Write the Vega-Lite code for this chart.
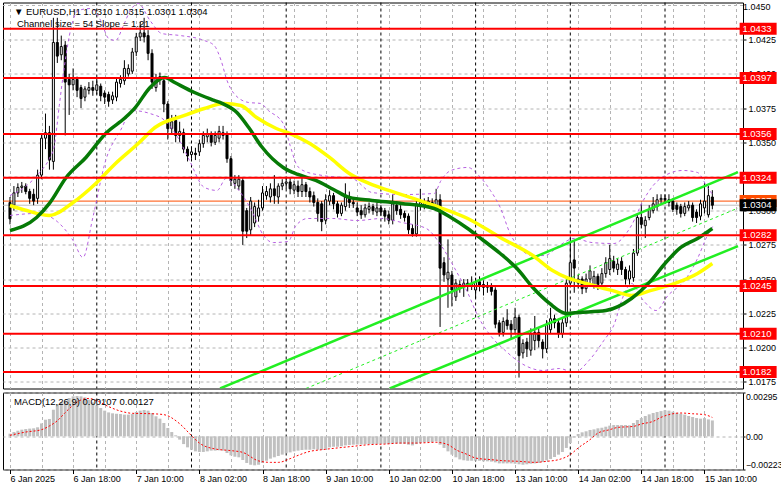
{
"$schema": "https://vega.github.io/schema/vega-lite/v6.json",
"background": "white",
"padding": {"left": 1, "top": 1.5, "right": 0, "bottom": 0},
"autosize": {"type": "pad"},
"config": {
 "font": "Liberation Sans",
 "view": {"stroke": "black", "strokeWidth": 1},
 "axis": {"domain": false, "labelFont": "Liberation Sans", "labelFontSize": 9, "labelColor": "black", "tickColor": "black", "tickSize": 3, "gridColor": "#b4b4b4", "gridDash": [3, 3], "gridWidth": 1, "labelOverlap": false, "labelBound": false},
 "concat": {"spacing": 2}
},
"datasets": {
 "candles": [
{"i":0,"o":1.0306,"h":1.031,"l":1.029,"c":1.0294},{"i":1,"o":1.0304,"h":1.0318,"l":1.03,"c":1.0313},{"i":2,"o":1.0313,"h":1.032,"l":1.031,"c":1.0317},{"i":3,"o":1.0317,"h":1.0321,"l":1.0313,"c":1.0318},{"i":4,"o":1.0318,"h":1.032,"l":1.0312,"c":1.0314},{"i":5,"o":1.0314,"h":1.0316,"l":1.0305,"c":1.0309},{"i":6,"o":1.0312,"h":1.0316,"l":1.0304,"c":1.0307},{"i":7,"o":1.0309,"h":1.033,"l":1.0305,"c":1.0326},{"i":8,"o":1.0326,"h":1.0356,"l":1.0323,"c":1.0353},{"i":9,"o":1.0353,"h":1.0371,"l":1.0345,"c":1.0357},
{"i":10,"o":1.0357,"h":1.0362,"l":1.033,"c":1.0337},{"i":11,"o":1.0336,"h":1.0441,"l":1.033,"c":1.0423},{"i":12,"o":1.0423,"h":1.0441,"l":1.0408,"c":1.0413},{"i":13,"o":1.0414,"h":1.0428,"l":1.041,"c":1.042},{"i":14,"o":1.0421,"h":1.0424,"l":1.0355,"c":1.0394},{"i":15,"o":1.0396,"h":1.04,"l":1.037,"c":1.0392},{"i":16,"o":1.0392,"h":1.0404,"l":1.0388,"c":1.0396},{"i":17,"o":1.0396,"h":1.0398,"l":1.0383,"c":1.0388},{"i":18,"o":1.039,"h":1.0392,"l":1.0375,"c":1.0382},{"i":19,"o":1.0383,"h":1.0391,"l":1.038,"c":1.0389},
{"i":20,"o":1.0388,"h":1.0394,"l":1.0385,"c":1.039},{"i":21,"o":1.039,"h":1.0395,"l":1.0384,"c":1.0388},{"i":22,"o":1.0388,"h":1.0397,"l":1.0385,"c":1.0392},{"i":23,"o":1.0391,"h":1.0393,"l":1.038,"c":1.0384},{"i":24,"o":1.0386,"h":1.0388,"l":1.0378,"c":1.0383},{"i":25,"o":1.0385,"h":1.0387,"l":1.0376,"c":1.038},{"i":26,"o":1.0381,"h":1.0387,"l":1.0378,"c":1.0384},{"i":27,"o":1.0383,"h":1.0397,"l":1.038,"c":1.0394},{"i":28,"o":1.0393,"h":1.0399,"l":1.039,"c":1.0396},{"i":29,"o":1.0395,"h":1.041,"l":1.0392,"c":1.0404},
{"i":30,"o":1.04,"h":1.0407,"l":1.0398,"c":1.0404},{"i":31,"o":1.0402,"h":1.0419,"l":1.04,"c":1.0416},{"i":32,"o":1.0416,"h":1.043,"l":1.0413,"c":1.0427},{"i":33,"o":1.0427,"h":1.0438,"l":1.0424,"c":1.043},{"i":34,"o":1.043,"h":1.0441,"l":1.0423,"c":1.0427},{"i":35,"o":1.0428,"h":1.0432,"l":1.041,"c":1.0415},{"i":36,"o":1.0415,"h":1.0418,"l":1.0389,"c":1.0394},{"i":37,"o":1.039,"h":1.04,"l":1.0387,"c":1.0397},{"i":38,"o":1.0396,"h":1.0401,"l":1.0392,"c":1.0398},{"i":39,"o":1.0395,"h":1.0398,"l":1.0372,"c":1.0378},
{"i":40,"o":1.0378,"h":1.038,"l":1.0352,"c":1.036},{"i":41,"o":1.036,"h":1.037,"l":1.0356,"c":1.0365},{"i":42,"o":1.0366,"h":1.037,"l":1.035,"c":1.0355},{"i":43,"o":1.0355,"h":1.0365,"l":1.035,"c":1.0358},{"i":44,"o":1.0357,"h":1.036,"l":1.0342,"c":1.0345},{"i":45,"o":1.0345,"h":1.0347,"l":1.0336,"c":1.034},{"i":46,"o":1.0341,"h":1.0347,"l":1.0338,"c":1.0343},{"i":47,"o":1.0342,"h":1.0346,"l":1.0337,"c":1.0341},{"i":48,"o":1.0343,"h":1.0352,"l":1.034,"c":1.0349},{"i":49,"o":1.0349,"h":1.0358,"l":1.0346,"c":1.0355},
{"i":50,"o":1.0354,"h":1.036,"l":1.035,"c":1.0356},{"i":51,"o":1.0356,"h":1.0358,"l":1.0347,"c":1.035},{"i":52,"o":1.035,"h":1.0358,"l":1.0348,"c":1.0355},{"i":53,"o":1.0353,"h":1.0362,"l":1.035,"c":1.0358},{"i":54,"o":1.0355,"h":1.0362,"l":1.0352,"c":1.0357},{"i":55,"o":1.0356,"h":1.0358,"l":1.0335,"c":1.0338},{"i":56,"o":1.0338,"h":1.034,"l":1.0318,"c":1.0322},{"i":57,"o":1.032,"h":1.0326,"l":1.0316,"c":1.0323},{"i":58,"o":1.0318,"h":1.0326,"l":1.0315,"c":1.0323},{"i":59,"o":1.0322,"h":1.0324,"l":1.0275,"c":1.0285},
{"i":60,"o":1.03,"h":1.0302,"l":1.028,"c":1.0285},{"i":61,"o":1.0286,"h":1.031,"l":1.0282,"c":1.0307},{"i":62,"o":1.0291,"h":1.0306,"l":1.0288,"c":1.0303},{"i":63,"o":1.0296,"h":1.0308,"l":1.0292,"c":1.0302},{"i":64,"o":1.0302,"h":1.0318,"l":1.03,"c":1.0313},{"i":65,"o":1.0311,"h":1.0318,"l":1.0308,"c":1.0314},{"i":66,"o":1.031,"h":1.032,"l":1.0306,"c":1.0316},{"i":67,"o":1.0316,"h":1.0326,"l":1.0305,"c":1.0311},{"i":68,"o":1.031,"h":1.032,"l":1.0305,"c":1.0318},{"i":69,"o":1.0318,"h":1.0323,"l":1.0315,"c":1.032},
{"i":70,"o":1.032,"h":1.0324,"l":1.0316,"c":1.0321},{"i":71,"o":1.0321,"h":1.0324,"l":1.0312,"c":1.0316},{"i":72,"o":1.0315,"h":1.0322,"l":1.0312,"c":1.0319},{"i":73,"o":1.0318,"h":1.0322,"l":1.031,"c":1.0314},{"i":74,"o":1.0314,"h":1.0324,"l":1.031,"c":1.0319},{"i":75,"o":1.0319,"h":1.0321,"l":1.031,"c":1.0314},{"i":76,"o":1.0314,"h":1.0317,"l":1.0306,"c":1.031},{"i":77,"o":1.0311,"h":1.0314,"l":1.0303,"c":1.0306},{"i":78,"o":1.0306,"h":1.0309,"l":1.0292,"c":1.0298},{"i":79,"o":1.0305,"h":1.0307,"l":1.0285,"c":1.0292},
{"i":80,"o":1.0293,"h":1.0312,"l":1.029,"c":1.0308},{"i":81,"o":1.0307,"h":1.0315,"l":1.0304,"c":1.0311},{"i":82,"o":1.0311,"h":1.0313,"l":1.0301,"c":1.0305},{"i":83,"o":1.0305,"h":1.0307,"l":1.0295,"c":1.0298},{"i":84,"o":1.0298,"h":1.0306,"l":1.0296,"c":1.0304},{"i":85,"o":1.0303,"h":1.032,"l":1.03,"c":1.031},{"i":86,"o":1.031,"h":1.0314,"l":1.0302,"c":1.0306},{"i":87,"o":1.0306,"h":1.031,"l":1.0302,"c":1.0305},{"i":88,"o":1.0302,"h":1.0306,"l":1.0296,"c":1.0299},{"i":89,"o":1.03,"h":1.0304,"l":1.0294,"c":1.0297},
{"i":90,"o":1.0297,"h":1.0305,"l":1.0295,"c":1.0302},{"i":91,"o":1.0301,"h":1.0306,"l":1.0298,"c":1.0303},{"i":92,"o":1.0303,"h":1.0305,"l":1.0297,"c":1.03},{"i":93,"o":1.0299,"h":1.0306,"l":1.0296,"c":1.0302},{"i":94,"o":1.0302,"h":1.0304,"l":1.0296,"c":1.0299},{"i":95,"o":1.03,"h":1.0302,"l":1.0292,"c":1.0296},{"i":96,"o":1.0297,"h":1.03,"l":1.029,"c":1.0293},{"i":97,"o":1.0293,"h":1.0312,"l":1.029,"c":1.0305},{"i":98,"o":1.0304,"h":1.0307,"l":1.0297,"c":1.03},{"i":99,"o":1.0301,"h":1.0304,"l":1.0294,"c":1.0297},
{"i":100,"o":1.0298,"h":1.03,"l":1.0292,"c":1.0295},{"i":101,"o":1.0296,"h":1.0298,"l":1.0283,"c":1.0286},{"i":102,"o":1.0287,"h":1.029,"l":1.0281,"c":1.0283},{"i":103,"o":1.0283,"h":1.0307,"l":1.0281,"c":1.0305},{"i":104,"o":1.0303,"h":1.0316,"l":1.03,"c":1.0306},{"i":105,"o":1.0304,"h":1.0309,"l":1.0301,"c":1.0306},{"i":106,"o":1.0305,"h":1.031,"l":1.0302,"c":1.0307},{"i":107,"o":1.0306,"h":1.0309,"l":1.0301,"c":1.0304},{"i":108,"o":1.0303,"h":1.0316,"l":1.0301,"c":1.0308},{"i":109,"o":1.0308,"h":1.0312,"l":1.0215,"c":1.0258},
{"i":110,"o":1.0262,"h":1.0266,"l":1.0248,"c":1.0253},{"i":111,"o":1.025,"h":1.0279,"l":1.0229,"c":1.0255},{"i":112,"o":1.0253,"h":1.0256,"l":1.023,"c":1.0242},{"i":113,"o":1.0237,"h":1.025,"l":1.0234,"c":1.0247},{"i":114,"o":1.0243,"h":1.0249,"l":1.024,"c":1.0246},{"i":115,"o":1.0245,"h":1.025,"l":1.0237,"c":1.0247},{"i":116,"o":1.0247,"h":1.025,"l":1.0241,"c":1.0245},{"i":117,"o":1.0245,"h":1.0252,"l":1.0242,"c":1.0247},{"i":118,"o":1.0242,"h":1.0251,"l":1.0236,"c":1.0248},{"i":119,"o":1.0248,"h":1.0252,"l":1.0241,"c":1.0245},
{"i":120,"o":1.0246,"h":1.0249,"l":1.0238,"c":1.0244},{"i":121,"o":1.0244,"h":1.0248,"l":1.024,"c":1.0245},{"i":122,"o":1.0245,"h":1.0247,"l":1.0238,"c":1.0241},{"i":123,"o":1.0242,"h":1.0244,"l":1.0214,"c":1.0217},{"i":124,"o":1.0218,"h":1.022,"l":1.0208,"c":1.0211},{"i":125,"o":1.0211,"h":1.0222,"l":1.0208,"c":1.0219},{"i":126,"o":1.022,"h":1.0228,"l":1.0213,"c":1.0216},{"i":127,"o":1.0217,"h":1.022,"l":1.0206,"c":1.0213},{"i":128,"o":1.0213,"h":1.0229,"l":1.021,"c":1.0222},{"i":129,"o":1.0222,"h":1.0224,"l":1.0178,"c":1.0194},
{"i":130,"o":1.0196,"h":1.0206,"l":1.0192,"c":1.0203},{"i":131,"o":1.0204,"h":1.0207,"l":1.0193,"c":1.0199},{"i":132,"o":1.0198,"h":1.0214,"l":1.0194,"c":1.021},{"i":133,"o":1.0205,"h":1.0223,"l":1.0198,"c":1.0211},{"i":134,"o":1.0211,"h":1.0214,"l":1.02,"c":1.0205},{"i":135,"o":1.0204,"h":1.0206,"l":1.0192,"c":1.0199},{"i":136,"o":1.0199,"h":1.022,"l":1.0196,"c":1.0217},{"i":137,"o":1.0213,"h":1.0229,"l":1.021,"c":1.0221},{"i":138,"o":1.0221,"h":1.0224,"l":1.0214,"c":1.0218},{"i":139,"o":1.0218,"h":1.0221,"l":1.0207,"c":1.021},
{"i":140,"o":1.021,"h":1.0221,"l":1.0207,"c":1.0218},{"i":141,"o":1.0218,"h":1.025,"l":1.0215,"c":1.0247},{"i":142,"o":1.0247,"h":1.028,"l":1.0245,"c":1.0262},{"i":143,"o":1.0264,"h":1.0278,"l":1.024,"c":1.0258},{"i":144,"o":1.0247,"h":1.0253,"l":1.0243,"c":1.025},{"i":145,"o":1.025,"h":1.0252,"l":1.0239,"c":1.0243},{"i":146,"o":1.0243,"h":1.0254,"l":1.024,"c":1.025},{"i":147,"o":1.025,"h":1.026,"l":1.0246,"c":1.0256},{"i":148,"o":1.0246,"h":1.0256,"l":1.0243,"c":1.0252},{"i":149,"o":1.0252,"h":1.0254,"l":1.0242,"c":1.0246},
{"i":150,"o":1.0247,"h":1.0258,"l":1.0244,"c":1.0254},{"i":151,"o":1.0254,"h":1.0266,"l":1.0251,"c":1.0262},{"i":152,"o":1.0257,"h":1.0275,"l":1.0253,"c":1.0265},{"i":153,"o":1.0263,"h":1.0267,"l":1.0255,"c":1.0258},{"i":154,"o":1.0257,"h":1.0265,"l":1.0253,"c":1.0261},{"i":155,"o":1.0263,"h":1.0266,"l":1.0253,"c":1.0257},{"i":156,"o":1.0257,"h":1.0259,"l":1.0246,"c":1.025},{"i":157,"o":1.025,"h":1.026,"l":1.0246,"c":1.0256},{"i":158,"o":1.0251,"h":1.0272,"l":1.0248,"c":1.0269},{"i":159,"o":1.0269,"h":1.0298,"l":1.0267,"c":1.0295},
{"i":160,"o":1.0295,"h":1.0305,"l":1.0287,"c":1.029},{"i":161,"o":1.0289,"h":1.0296,"l":1.028,"c":1.0293},{"i":162,"o":1.0295,"h":1.0304,"l":1.0293,"c":1.0301},{"i":163,"o":1.03,"h":1.031,"l":1.0298,"c":1.0305},{"i":164,"o":1.0303,"h":1.0312,"l":1.03,"c":1.0308},{"i":165,"o":1.0308,"h":1.0312,"l":1.0305,"c":1.0309},{"i":166,"o":1.0309,"h":1.0312,"l":1.0305,"c":1.0308},{"i":167,"o":1.0308,"h":1.0312,"l":1.0303,"c":1.0306},{"i":168,"o":1.0307,"h":1.0309,"l":1.0299,"c":1.0301},{"i":169,"o":1.0304,"h":1.0306,"l":1.0297,"c":1.0301},
{"i":170,"o":1.0303,"h":1.0305,"l":1.0295,"c":1.0298},{"i":171,"o":1.0298,"h":1.0306,"l":1.0296,"c":1.0303},{"i":172,"o":1.0302,"h":1.0307,"l":1.03,"c":1.0304},{"i":173,"o":1.0304,"h":1.0306,"l":1.0292,"c":1.0295},{"i":174,"o":1.0299,"h":1.0301,"l":1.0291,"c":1.0295},{"i":175,"o":1.0296,"h":1.0308,"l":1.0293,"c":1.0305},{"i":176,"o":1.0302,"h":1.032,"l":1.0298,"c":1.0307},{"i":177,"o":1.0297,"h":1.0318,"l":1.0295,"c":1.0311},{"i":178,"o":1.031,"h":1.0315,"l":1.0301,"c":1.0304}
 ],
 "macd": [
{"i":0,"v":0.00018},{"i":1,"v":0.00029},{"i":2,"v":0.00038},{"i":3,"v":0.00045},{"i":4,"v":0.00049},{"i":5,"v":0.00052},{"i":6,"v":0.00054},{"i":7,"v":0.00061},{"i":8,"v":0.00087},{"i":9,"v":0.00112},
{"i":10,"v":0.00117},{"i":11,"v":0.00179},{"i":12,"v":0.00213},{"i":13,"v":0.00231},{"i":14,"v":0.0024},{"i":15,"v":0.00258},{"i":16,"v":0.00269},{"i":17,"v":0.00271},{"i":18,"v":0.00269},{"i":19,"v":0.00262},
{"i":20,"v":0.00247},{"i":21,"v":0.00229},{"i":22,"v":0.00209},{"i":23,"v":0.00191},{"i":24,"v":0.00173},{"i":25,"v":0.00161},{"i":26,"v":0.00155},{"i":27,"v":0.00152},{"i":28,"v":0.0015},{"i":29,"v":0.00146},
{"i":30,"v":0.00146},{"i":31,"v":0.0015},{"i":32,"v":0.00164},{"i":33,"v":0.00173},{"i":34,"v":0.00177},{"i":35,"v":0.00173},{"i":36,"v":0.00157},{"i":37,"v":0.00135},{"i":38,"v":0.00119},{"i":39,"v":0.0009},
{"i":40,"v":0.00056},{"i":41,"v":0.00029},{"i":42,"v":0.00007},{"i":43,"v":-0.00022},{"i":44,"v":-0.00052},{"i":45,"v":-0.00074},{"i":46,"v":-0.0009},{"i":47,"v":-0.00101},{"i":48,"v":-0.00105},{"i":49,"v":-0.00105},
{"i":50,"v":-0.00101},{"i":51,"v":-0.00096},{"i":52,"v":-0.00096},{"i":53,"v":-0.00094},{"i":54,"v":-0.00096},{"i":55,"v":-0.00112},{"i":56,"v":-0.00128},{"i":57,"v":-0.00137},{"i":58,"v":-0.00141},{"i":59,"v":-0.00159},
{"i":60,"v":-0.00179},{"i":61,"v":-0.00191},{"i":62,"v":-0.00195},{"i":63,"v":-0.00191},{"i":64,"v":-0.00179},{"i":65,"v":-0.00164},{"i":66,"v":-0.0015},{"i":67,"v":-0.00141},{"i":68,"v":-0.00132},{"i":69,"v":-0.00123},
{"i":70,"v":-0.00114},{"i":71,"v":-0.00108},{"i":72,"v":-0.00101},{"i":73,"v":-0.00096},{"i":74,"v":-0.00092},{"i":75,"v":-0.0009},{"i":76,"v":-0.0009},{"i":77,"v":-0.00087},{"i":78,"v":-0.0009},{"i":79,"v":-0.00092},
{"i":80,"v":-0.00083},{"i":81,"v":-0.00074},{"i":82,"v":-0.0007},{"i":83,"v":-0.0007},{"i":84,"v":-0.00067},{"i":85,"v":-0.00061},{"i":86,"v":-0.00058},{"i":87,"v":-0.00056},{"i":88,"v":-0.00055},{"i":89,"v":-0.00055},
{"i":90,"v":-0.00053},{"i":91,"v":-0.00052},{"i":92,"v":-0.00052},{"i":93,"v":-0.00051},{"i":94,"v":-0.0005},{"i":95,"v":-0.0005},{"i":96,"v":-0.00052},{"i":97,"v":-0.00048},{"i":98,"v":-0.00048},{"i":99,"v":-0.0005},
{"i":100,"v":-0.0005},{"i":101,"v":-0.00056},{"i":102,"v":-0.00061},{"i":103,"v":-0.00052},{"i":104,"v":-0.00045},{"i":105,"v":-0.0004},{"i":106,"v":-0.00038},{"i":107,"v":-0.00038},{"i":108,"v":-0.00034},{"i":109,"v":-0.00056},
{"i":110,"v":-0.00078},{"i":111,"v":-0.00101},{"i":112,"v":-0.00123},{"i":113,"v":-0.00141},{"i":114,"v":-0.00155},{"i":115,"v":-0.00161},{"i":116,"v":-0.00164},{"i":117,"v":-0.00164},{"i":118,"v":-0.00164},{"i":119,"v":-0.00164},
{"i":120,"v":-0.00168},{"i":121,"v":-0.00168},{"i":122,"v":-0.0017},{"i":123,"v":-0.00175},{"i":124,"v":-0.00182},{"i":125,"v":-0.00182},{"i":126,"v":-0.00182},{"i":127,"v":-0.00182},{"i":128,"v":-0.00184},{"i":129,"v":-0.00188},
{"i":130,"v":-0.00191},{"i":131,"v":-0.00188},{"i":132,"v":-0.00184},{"i":133,"v":-0.00182},{"i":134,"v":-0.00179},{"i":135,"v":-0.00173},{"i":136,"v":-0.00161},{"i":137,"v":-0.00152},{"i":138,"v":-0.00139},{"i":139,"v":-0.00123},
{"i":140,"v":-0.00105},{"i":141,"v":-0.00078},{"i":142,"v":-0.00045},{"i":143,"v":-0.00007},{"i":144,"v":0.00016},{"i":145,"v":0.00027},{"i":146,"v":0.00034},{"i":147,"v":0.00043},{"i":148,"v":0.00047},{"i":149,"v":0.00054},
{"i":150,"v":0.00058},{"i":151,"v":0.00065},{"i":152,"v":0.00072},{"i":153,"v":0.00076},{"i":154,"v":0.00076},{"i":155,"v":0.00076},{"i":156,"v":0.00076},{"i":157,"v":0.00074},{"i":158,"v":0.0009},{"i":159,"v":0.0011},
{"i":160,"v":0.00123},{"i":161,"v":0.00137},{"i":162,"v":0.00148},{"i":163,"v":0.00157},{"i":164,"v":0.00164},{"i":165,"v":0.0017},{"i":166,"v":0.00175},{"i":167,"v":0.00173},{"i":168,"v":0.00166},{"i":169,"v":0.00159},
{"i":170,"v":0.00152},{"i":171,"v":0.00146},{"i":172,"v":0.00137},{"i":173,"v":0.0013},{"i":174,"v":0.00123},{"i":175,"v":0.00119},{"i":176,"v":0.00123},{"i":177,"v":0.00114},{"i":178,"v":0.00107}
 ],
 "signal": [
{"i":0,"v":0.00007},{"i":4,"v":0.00029},{"i":8,"v":0.00045},{"i":10,"v":0.0007},{"i":12,"v":0.00105},{"i":14,"v":0.0016},{"i":16,"v":0.0021},{"i":18,"v":0.00245},{"i":20,"v":0.00255},{"i":22,"v":0.0024},{"i":25,"v":0.002},{"i":28,"v":0.0017},{"i":31,"v":0.00155},{"i":36,"v":0.00152},{"i":39,"v":0.00146},{"i":43,"v":0.00085},{"i":46,"v":0.00005},{"i":48,"v":-0.00045},{"i":52,"v":-0.00085},{"i":56,"v":-0.00096},{"i":59,"v":-0.00108},{"i":63,"v":-0.00165},{"i":66,"v":-0.00175},{"i":68,"v":-0.00175},{"i":71,"v":-0.0015},{"i":73,"v":-0.00128},{"i":76,"v":-0.00101},{"i":79,"v":-0.0009},{"i":83,"v":-0.00078},{"i":87,"v":-0.00067},{"i":91,"v":-0.00056},{"i":95,"v":-0.00052},{"i":99,"v":-0.00045},{"i":103,"v":-0.00045},{"i":108,"v":-0.0004},{"i":111,"v":-0.00056},{"i":113,"v":-0.0009},{"i":116,"v":-0.00123},{"i":118,"v":-0.00146},{"i":122,"v":-0.00157},{"i":125,"v":-0.00164},{"i":129,"v":-0.00168},{"i":133,"v":-0.00175},{"i":136,"v":-0.00168},{"i":139,"v":-0.00157},{"i":142,"v":-0.00123},{"i":144,"v":-0.00078},{"i":147,"v":-0.00022},{"i":149,"v":0.00022},{"i":152,"v":0.00045},{"i":154,"v":0.0006},{"i":158,"v":0.00067},{"i":160,"v":0.00083},{"i":163,"v":0.00101},{"i":165,"v":0.00128},{"i":168,"v":0.00152},{"i":170,"v":0.00157},{"i":173,"v":0.00152},{"i":176,"v":0.00146},{"i":178,"v":0.00127}
 ],
 "gma": [
{"i":0,"p":1.02855},{"i":6.75,"p":1.0295},{"i":10,"p":1.03053},{"i":14.25,"p":1.03243},{"i":19.25,"p":1.03389},{"i":24.25,"p":1.03564},{"i":29.25,"p":1.03681},{"i":31.75,"p":1.03754},{"i":35.5,"p":1.03901},{"i":39.25,"p":1.03974},{"i":41.75,"p":1.03937},{"i":46.75,"p":1.03864},{"i":51.75,"p":1.03806},{"i":53.75,"p":1.03784},{"i":57.5,"p":1.03718},{"i":60.5,"p":1.03608},{"i":63.75,"p":1.03469},{"i":69.25,"p":1.03316},{"i":73,"p":1.03265},{"i":77.5,"p":1.03221},{"i":82,"p":1.03155},{"i":86,"p":1.03097},{"i":91.75,"p":1.03075},{"i":99.25,"p":1.03053},{"i":107.5,"p":1.03016},{"i":111.75,"p":1.0295},{"i":116,"p":1.0287},{"i":120,"p":1.02782},{"i":124.25,"p":1.02687},{"i":128.5,"p":1.02577},{"i":132.5,"p":1.02438},{"i":136.75,"p":1.02322},{"i":141,"p":1.02249},{"i":144.25,"p":1.02256},{"i":151,"p":1.0227},{"i":157.5,"p":1.02358},{"i":162.5,"p":1.0249},{"i":166,"p":1.02614},{"i":170,"p":1.02731},{"i":174.25,"p":1.02797},{"i":178,"p":1.0287}
 ],
 "yma": [
{"i":0,"p":1.03038},{"i":4.25,"p":1.03001},{"i":10,"p":1.02965},{"i":16,"p":1.0306},{"i":21.75,"p":1.03199},{"i":26.75,"p":1.03345},{"i":32.5,"p":1.03491},{"i":36.75,"p":1.03608},{"i":44.25,"p":1.03696},{"i":49.25,"p":1.03747},{"i":54.25,"p":1.03784},{"i":58.5,"p":1.03769},{"i":62.5,"p":1.03681},{"i":67.5,"p":1.03601},{"i":71,"p":1.03564},{"i":76,"p":1.03491},{"i":81,"p":1.03389},{"i":86,"p":1.03272},{"i":91,"p":1.03199},{"i":96,"p":1.03148},{"i":99.25,"p":1.03118},{"i":107.5,"p":1.03038},{"i":116,"p":1.02943},{"i":124.25,"p":1.02804},{"i":132.5,"p":1.02672},{"i":137.5,"p":1.02563},{"i":141,"p":1.02512},{"i":146,"p":1.02468},{"i":152.5,"p":1.02417},{"i":157.5,"p":1.0238},{"i":162.5,"p":1.02417},{"i":168.5,"p":1.02468},{"i":174.25,"p":1.02541},{"i":178,"p":1.02614}
 ],
 "ub": [
{"i":0,"p":1.03111},{"i":4.25,"p":1.03184},{"i":7.5,"p":1.03279},{"i":10,"p":1.03382},{"i":11.25,"p":1.03477},{"i":12.5,"p":1.03769},{"i":13.75,"p":1.04047},{"i":15.5,"p":1.04339},{"i":17.25,"p":1.04463},{"i":20.5,"p":1.04478},{"i":23,"p":1.0439},{"i":25,"p":1.04259},{"i":26.75,"p":1.04244},{"i":28.75,"p":1.04354},{"i":30.5,"p":1.04463},{"i":32.5,"p":1.04515},{"i":35.5,"p":1.0439},{"i":38.5,"p":1.04295},{"i":43,"p":1.04281},{"i":49.25,"p":1.04244},{"i":51.75,"p":1.04208},{"i":53.5,"p":1.04098},{"i":55,"p":1.03952},{"i":56.75,"p":1.03857},{"i":60.5,"p":1.03791},{"i":63.5,"p":1.03784},{"i":65.5,"p":1.03732},{"i":69.25,"p":1.03637},{"i":71,"p":1.03477},{"i":72.5,"p":1.03345},{"i":74.25,"p":1.03294},{"i":79.25,"p":1.03257},{"i":86.75,"p":1.03235},{"i":91.75,"p":1.03133},{"i":99.25,"p":1.03118},{"i":107.5,"p":1.03126},{"i":109.25,"p":1.03221},{"i":111.75,"p":1.03294},{"i":116,"p":1.03316},{"i":119.25,"p":1.03243},{"i":121.75,"p":1.03148},{"i":124.25,"p":1.03023},{"i":126.75,"p":1.02833},{"i":129.25,"p":1.02724},{"i":132.5,"p":1.02672},{"i":135.5,"p":1.02672},{"i":139.25,"p":1.02746},{"i":143,"p":1.02797},{"i":147.5,"p":1.02767},{"i":153,"p":1.0276},{"i":157.5,"p":1.02892},{"i":160.5,"p":1.03075},{"i":163,"p":1.03184},{"i":166,"p":1.03257},{"i":170.5,"p":1.03294},{"i":174.25,"p":1.03279},{"i":176.75,"p":1.0317},{"i":178.25,"p":1.03111}
 ],
 "lb": [
{"i":0,"p":1.02965},{"i":7,"p":1.0298},{"i":12,"p":1.0292},{"i":16,"p":1.02782},{"i":18.5,"p":1.02658},{"i":21,"p":1.0295},{"i":24.25,"p":1.03367},{"i":28,"p":1.03586},{"i":31,"p":1.03732},{"i":35.5,"p":1.0371},{"i":39.25,"p":1.03659},{"i":43,"p":1.03513},{"i":45.5,"p":1.03367},{"i":49.25,"p":1.0317},{"i":52.5,"p":1.03148},{"i":54.75,"p":1.03235},{"i":58,"p":1.03148},{"i":61.25,"p":1.03001},{"i":64.25,"p":1.02819},{"i":66.75,"p":1.02767},{"i":70.5,"p":1.02775},{"i":72.5,"p":1.02892},{"i":75.5,"p":1.02943},{"i":81.75,"p":1.02943},{"i":88,"p":1.02928},{"i":94.25,"p":1.02943},{"i":99.25,"p":1.02914},{"i":105.5,"p":1.0287},{"i":109.25,"p":1.02746},{"i":113,"p":1.02563},{"i":116,"p":1.024},{"i":118.5,"p":1.02234},{"i":121.75,"p":1.02088},{"i":125.5,"p":1.01978},{"i":129.25,"p":1.0189},{"i":135,"p":1.01832},{"i":139.25,"p":1.01846},{"i":143,"p":1.01817},{"i":146.75,"p":1.01905},{"i":150.5,"p":1.02051},{"i":153,"p":1.02161},{"i":155.5,"p":1.0238},{"i":157.5,"p":1.02468},{"i":160.5,"p":1.02344},{"i":163.75,"p":1.0227},{"i":166.75,"p":1.0238},{"i":171,"p":1.0249},{"i":174.25,"p":1.02651},{"i":176.75,"p":1.02819},{"i":178.25,"p":1.02892}
 ],
 "chan": [
{"k":"u","i":53.25,"p":1.017},{"k":"u","i":184.5,"p":1.03282},
{"k":"m","i":75,"p":1.017},{"k":"m","i":184.5,"p":1.03019},
{"k":"l","i":96.25,"p":1.017},{"k":"l","i":184.5,"p":1.02741}
 ],
 "levels": [{"p":1.0433},{"p":1.0397},{"p":1.0356},{"p":1.0324},{"p":1.0282},{"p":1.0245},{"p":1.021},{"p":1.0182}],
 "days": [{"i":22},{"i":46},{"i":70},{"i":94},{"i":118},{"i":142},{"i":166}]
},
"vconcat": [
 {
  "width": 740,
  "height": 386,
  "layer": [
   {
    "data": {"name": "days"},
    "mark": {"type": "rule", "color": "black", "strokeDash": [3, 3], "strokeWidth": 1},
    "encoding": {
     "x": {"field": "i", "type": "quantitative", "scale": {"domain": [-0.5, 184.5], "nice": false, "zero": false},
      "axis": {"title": null, "tickCount": 40, "values": [0,8,16,24,32,40,48,56,64,72,80,88,96,104,112,120,128,136,144,152,160,168,176,184], "grid": true, "labels": false, "ticks": false, "domain": false}}
    }
   },
   {
    "data": {"values": [{"p": 1.0304}]},
    "mark": {"type": "rule", "color": "#c0c0c0", "strokeWidth": 1},
    "encoding": {
     "y": {"field": "p", "type": "quantitative", "scale": {"domain": [1.017, 1.04522], "nice": false, "zero": false},
      "axis": {"title": null, "orient": "right", "tickCount": 40, "values": [1.0175,1.02,1.0225,1.025,1.0275,1.03,1.0325,1.035,1.0375,1.04,1.0425], "format": ".4f", "grid": true, "tickSize": 3, "labelPadding": 2, "labelOverlap": false, "labelBound": false, "labelFlush": false}}
    }
   },
   {
    "data": {"values": [{"p": 1.045}]},
    "mark": {"type": "rule", "color": "#b4b4b4", "strokeDash": [3, 3], "strokeWidth": 1},
    "encoding": {"y": {"field": "p", "type": "quantitative", "scale": {"domain": [1.017, 1.04522], "nice": false, "zero": false}}}
   },
   {
    "data": {"values": [{"t": "1.0450"}]},
    "mark": {"type": "text", "color": "black", "fontSize": 9, "align": "left", "baseline": "top"},
    "encoding": {
     "x": {"datum": 185.75, "type": "quantitative", "scale": {"domain": [-0.5, 184.5], "nice": false, "zero": false}},
     "y": {"datum": 1.04522, "type": "quantitative", "scale": {"domain": [1.017, 1.04522], "nice": false, "zero": false}},
     "text": {"field": "t"}
    }
   },
   {
    "data": {"values": [{"p": 1.0307}]},
    "mark": {"type": "rule", "color": "#ff4d00", "strokeWidth": 1},
    "encoding": {"y": {"field": "p", "type": "quantitative", "scale": {"domain": [1.017, 1.04522], "nice": false, "zero": false}}}
   },
   {
    "data": {"name": "candles"},
    "mark": {"type": "rule", "color": "black", "strokeWidth": 1},
    "encoding": {
     "x": {"field": "i", "type": "quantitative", "scale": {"domain": [-0.5, 184.5], "nice": false, "zero": false}},
     "y": {"field": "l", "type": "quantitative", "scale": {"domain": [1.017, 1.04522], "nice": false, "zero": false}},
     "y2": {"field": "h"}
    }
   },
   {
    "data": {"name": "candles"},
    "mark": {"type": "bar", "width": 2, "stroke": "black", "strokeWidth": 1},
    "encoding": {
     "x": {"field": "i", "type": "quantitative", "scale": {"domain": [-0.5, 184.5], "nice": false, "zero": false}},
     "y": {"field": "o", "type": "quantitative", "scale": {"domain": [1.017, 1.04522], "nice": false, "zero": false}},
     "y2": {"field": "c"},
     "fill": {"condition": {"test": "datum.c < datum.o", "value": "black"}, "value": "white"}
    }
   },
   {
    "data": {"name": "ub"},
    "mark": {"type": "line", "color": "#b660e0", "strokeWidth": 1, "strokeDash": [3, 3], "interpolate": "monotone", "clip": true},
    "encoding": {
     "x": {"field": "i", "type": "quantitative", "scale": {"domain": [-0.5, 184.5], "nice": false, "zero": false}},
     "y": {"field": "p", "type": "quantitative", "scale": {"domain": [1.017, 1.04522], "nice": false, "zero": false}}
    }
   },
   {
    "data": {"name": "lb"},
    "mark": {"type": "line", "color": "#b660e0", "strokeWidth": 1, "strokeDash": [3, 3], "interpolate": "monotone", "clip": true},
    "encoding": {
     "x": {"field": "i", "type": "quantitative", "scale": {"domain": [-0.5, 184.5], "nice": false, "zero": false}},
     "y": {"field": "p", "type": "quantitative", "scale": {"domain": [1.017, 1.04522], "nice": false, "zero": false}}
    }
   },
   {
    "data": {"name": "chan"},
    "transform": [{"filter": "datum.k !== 'm'"}],
    "mark": {"type": "line", "color": "#22ee22", "strokeWidth": 2.5, "clip": true},
    "encoding": {
     "x": {"field": "i", "type": "quantitative", "scale": {"domain": [-0.5, 184.5], "nice": false, "zero": false}},
     "y": {"field": "p", "type": "quantitative", "scale": {"domain": [1.017, 1.04522], "nice": false, "zero": false}},
     "detail": {"field": "k"}
    }
   },
   {
    "data": {"name": "chan"},
    "transform": [{"filter": "datum.k === 'm'"}],
    "mark": {"type": "line", "color": "#22ee22", "strokeWidth": 1, "strokeDash": [3, 3], "clip": true},
    "encoding": {
     "x": {"field": "i", "type": "quantitative", "scale": {"domain": [-0.5, 184.5], "nice": false, "zero": false}},
     "y": {"field": "p", "type": "quantitative", "scale": {"domain": [1.017, 1.04522], "nice": false, "zero": false}}
    }
   },
   {
    "data": {"name": "yma"},
    "mark": {"type": "line", "color": "#ffff00", "strokeWidth": 3.5, "interpolate": "monotone", "clip": true},
    "encoding": {
     "x": {"field": "i", "type": "quantitative", "scale": {"domain": [-0.5, 184.5], "nice": false, "zero": false}},
     "y": {"field": "p", "type": "quantitative", "scale": {"domain": [1.017, 1.04522], "nice": false, "zero": false}}
    }
   },
   {
    "data": {"name": "gma"},
    "mark": {"type": "line", "color": "#067a06", "strokeWidth": 3.5, "interpolate": "monotone", "clip": true},
    "encoding": {
     "x": {"field": "i", "type": "quantitative", "scale": {"domain": [-0.5, 184.5], "nice": false, "zero": false}},
     "y": {"field": "p", "type": "quantitative", "scale": {"domain": [1.017, 1.04522], "nice": false, "zero": false}}
    }
   },
   {
    "data": {"name": "levels"},
    "mark": {"type": "rule", "color": "#ff0000", "strokeWidth": 2},
    "encoding": {"y": {"field": "p", "type": "quantitative", "scale": {"domain": [1.017, 1.04522], "nice": false, "zero": false}}}
   },
   {
    "data": {"name": "levels"},
    "mark": {"type": "tick", "orient": "horizontal", "thickness": 12, "color": "#ff0000", "opacity": 1},
    "encoding": {
     "x": {"datum": 189.6, "type": "quantitative", "scale": {"domain": [-0.5, 184.5], "nice": false, "zero": false}},
     "y": {"field": "p", "type": "quantitative", "scale": {"domain": [1.017, 1.04522], "nice": false, "zero": false}},
     "size": {"value": 37}
    }
   },
   {
    "data": {"name": "levels"},
    "mark": {"type": "text", "color": "white", "fontSize": 9.5, "align": "center", "baseline": "middle"},
    "encoding": {
     "x": {"datum": 189.3, "type": "quantitative", "scale": {"domain": [-0.5, 184.5], "nice": false, "zero": false}},
     "y": {"field": "p", "type": "quantitative", "scale": {"domain": [1.017, 1.04522], "nice": false, "zero": false}},
     "text": {"field": "p", "format": ".4f"}
    }
   },
   {
    "data": {"values": [{"p": 1.0307}]},
    "mark": {"type": "tick", "orient": "horizontal", "thickness": 12, "color": "#ff4d00", "opacity": 1},
    "encoding": {
     "x": {"datum": 189.6, "type": "quantitative", "scale": {"domain": [-0.5, 184.5], "nice": false, "zero": false}},
     "y": {"field": "p", "type": "quantitative", "scale": {"domain": [1.017, 1.04522], "nice": false, "zero": false}},
     "size": {"value": 37}
    }
   },
   {
    "data": {"values": [{"p": 1.0307}]},
    "mark": {"type": "text", "color": "white", "fontSize": 9.5, "align": "center", "baseline": "middle"},
    "encoding": {
     "x": {"datum": 189.3, "type": "quantitative", "scale": {"domain": [-0.5, 184.5], "nice": false, "zero": false}},
     "y": {"field": "p", "type": "quantitative", "scale": {"domain": [1.017, 1.04522], "nice": false, "zero": false}},
     "text": {"field": "p", "format": ".4f"}
    }
   },
   {
    "data": {"values": [{"p": 1.0304}]},
    "mark": {"type": "tick", "orient": "horizontal", "thickness": 12, "color": "black", "opacity": 1},
    "encoding": {
     "x": {"datum": 189.6, "type": "quantitative", "scale": {"domain": [-0.5, 184.5], "nice": false, "zero": false}},
     "y": {"field": "p", "type": "quantitative", "scale": {"domain": [1.017, 1.04522], "nice": false, "zero": false}},
     "size": {"value": 37}
    }
   },
   {
    "data": {"values": [{"p": 1.0304}]},
    "mark": {"type": "text", "color": "white", "fontSize": 9.5, "align": "center", "baseline": "middle"},
    "encoding": {
     "x": {"datum": 189.3, "type": "quantitative", "scale": {"domain": [-0.5, 184.5], "nice": false, "zero": false}},
     "y": {"field": "p", "type": "quantitative", "scale": {"domain": [1.017, 1.04522], "nice": false, "zero": false}},
     "text": {"field": "p", "format": ".4f"}
    }
   },
   {
    "data": {"values": [{"t": "▼ EURUSD,H1  1.0310 1.0315 1.0301 1.0304"}]},
    "mark": {"type": "text", "color": "black", "fontSize": 9.5, "align": "left", "baseline": "middle"},
    "encoding": {
     "x": {"datum": 1, "type": "quantitative", "scale": {"domain": [-0.5, 184.5], "nice": false, "zero": false}},
     "y": {"datum": 1.04455, "type": "quantitative", "scale": {"domain": [1.017, 1.04522], "nice": false, "zero": false}},
     "text": {"field": "t"}
    }
   },
   {
    "data": {"values": [{"t": "Channel size = 54 Slope = 1.21"}]},
    "mark": {"type": "text", "color": "black", "fontSize": 9.5, "align": "left", "baseline": "middle"},
    "encoding": {
     "x": {"datum": 1.75, "type": "quantitative", "scale": {"domain": [-0.5, 184.5], "nice": false, "zero": false}},
     "y": {"datum": 1.04362, "type": "quantitative", "scale": {"domain": [1.017, 1.04522], "nice": false, "zero": false}},
     "text": {"field": "t"}
    }
   }
  ]
 },
 {
  "width": 740,
  "height": 77,
  "layer": [
   {
    "data": {"name": "days"},
    "mark": {"type": "rule", "color": "black", "strokeDash": [3, 3], "strokeWidth": 1},
    "encoding": {
     "x": {"field": "i", "type": "quantitative", "scale": {"domain": [-0.5, 184.5], "nice": false, "zero": false},
      "axis": {"title": null, "tickCount": 40, "values": [0,8,16,24,32,40,48,56,64,72,80,88,96,104,112,120,128,136,144,152,160,168,176,184], "grid": true, "domain": false,
       "labelExpr": "['6 Jan 2025','6 Jan 18:00','7 Jan 10:00','8 Jan 02:00','8 Jan 18:00','9 Jan 10:00','10 Jan 02:00','10 Jan 18:00','13 Jan 10:00','14 Jan 02:00','14 Jan 18:00','15 Jan 10:00'][datum.value / 16] || ''",
       "labelAlign": "left", "labelFlush": false, "labelOverlap": false, "labelPadding": 1, "tickSize": 4,
       "tickOpacity": {"condition": {"test": "datum.value % 16 === 0", "value": 1}, "value": 0}}}
    }
   },
   {
    "data": {"name": "macd"},
    "mark": {"type": "bar", "width": 3, "color": "#c0c0c0"},
    "encoding": {
     "x": {"field": "i", "type": "quantitative", "scale": {"domain": [-0.5, 184.5], "nice": false, "zero": false}},
     "y": {"field": "v", "type": "quantitative", "scale": {"domain": [-0.00223, 0.00295], "nice": false, "zero": false},
      "axis": {"title": null, "orient": "right", "tickCount": 40, "values": [-0.00223, 0, 0.00295], "grid": true, "tickSize": 2, "labelPadding": 0.5, "labelFlush": true, "labelOverlap": false, "labelFontSize": 8.7,
       "labelExpr": "datum.value === 0 ? '0.00' : format(datum.value, '.5f')"}},
     "y2": {"datum": 0}
    }
   },
   {
    "data": {"name": "signal"},
    "mark": {"type": "line", "color": "#ff0000", "strokeWidth": 1, "strokeDash": [2, 2], "interpolate": "monotone"},
    "encoding": {
     "x": {"field": "i", "type": "quantitative", "scale": {"domain": [-0.5, 184.5], "nice": false, "zero": false}},
     "y": {"field": "v", "type": "quantitative", "scale": {"domain": [-0.00223, 0.00295], "nice": false, "zero": false}}
    }
   },
   {
    "data": {"values": [{"t": "MACD(12,26,9) 0.00107 0.00127"}]},
    "mark": {"type": "text", "color": "black", "fontSize": 9.5, "align": "left", "baseline": "middle"},
    "encoding": {
     "x": {"datum": 1, "type": "quantitative", "scale": {"domain": [-0.5, 184.5], "nice": false, "zero": false}},
     "y": {"datum": 0.00231, "type": "quantitative", "scale": {"domain": [-0.00223, 0.00295], "nice": false, "zero": false}},
     "text": {"field": "t"}
    }
   }
  ]
 }
]
}
